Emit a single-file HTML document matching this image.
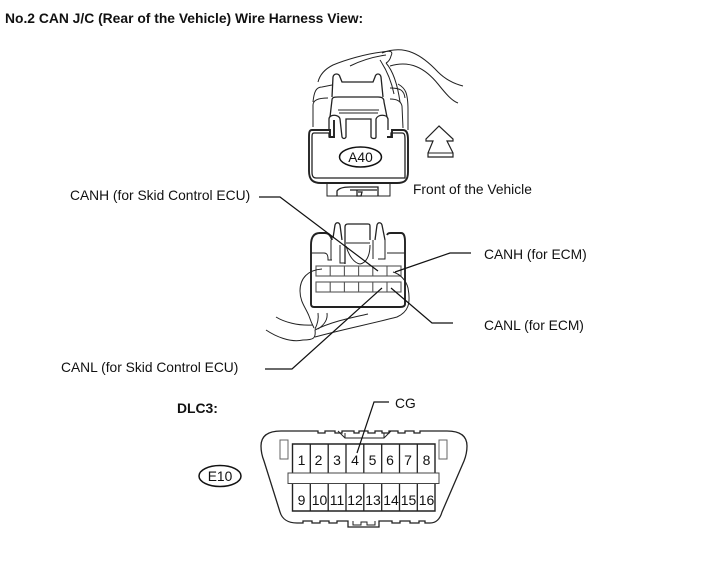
<!DOCTYPE html>
<html><head><meta charset="utf-8"><style>
html,body{margin:0;padding:0;background:#fff}
svg{display:block}
text{font-family:"Liberation Sans",sans-serif;fill:#111}
.l{fill:none;stroke:#222;stroke-width:1}
.m{fill:none;stroke:#222;stroke-width:1.3}
.b{fill:none;stroke:#222;stroke-width:1.9}
.c{fill:none;stroke:#111;stroke-width:1.2}
.g{fill:#fff;stroke:#555;stroke-width:1.1}
.n{font-size:14px;text-anchor:middle}
</style></head><body>
<svg width="713" height="581" viewBox="0 0 713 581" xmlns="http://www.w3.org/2000/svg">
<rect width="713" height="581" fill="#fff"/>
<text x="5" y="23" font-size="13.85" font-weight="bold">No.2 CAN J/C (Rear of the Vehicle) Wire Harness View:</text>

<!-- A40 connector -->
<path class="l" d="M318 82C320 74 325 69 333 65C345 60 365 54 382 52C392 50 393 52 391 56C390 60 388 62 386 63"/>
<path class="l" d="M350 66C360 61 372 57 386 55M382 53C405 44 422 55 438 72C446 80 455 84 463 86"/>
<path class="l" d="M390 66C410 60 425 68 438 84C446 94 452 101 458 103"/>
<path class="l" d="M386 63C394 72 398 88 400 102M380 60C388 72 392 84 394 94"/>
<path class="l" d="M313 127V105C313 100 318 98 328 98M313 102C314 92 316 87 322 87L332 85M403 128L402 106C401 101 397 99 390 99M398 84C405 88 408 92 408 110V130M390 88C400 88 404 90 405 98"/>
<path class="m" d="M332 97L333 77C334 73 339 73 340 77L342 82H373L375 77C376 73 380 73 381 77L383 97"/>
<path class="m" d="M330 117L332 100C332 97 335 97 338 97H378C382 97 384 98 384 102L387 117"/>
<path class="l" d="M338 110H379M339 113H378"/>
<path class="m" d="M329 130L329 119C329 114 339 114 340 119L342 137C343 139 345 139 346 137V119H371V137C372 139 376 139 376 137V119C378 114 387 114 388 119V130"/>
<path class="b" d="M312 130H330V137H334V120M387 137H392V130H403C407 130 408 134 408 140V172C408 181 404 183 397 183H321C313 183 309 180 309 171V138C309 133 309 130 312 130"/>
<path class="m" d="M314 133H329V137H335M391 136V133H402C405 133 405 136 405 140V178H316C313 178 312 176 312 172V138C312 135 312 133 314 133"/>
<path class="l" d="M327 183V196H390V183"/>
<path class="m" d="M337 196V191C339 188 345 187 350 187H378V196M350 190H377M357 190V196H361L362 192H358"/>
<ellipse cx="360.500" cy="157" rx="21" ry="10" fill="#fff" stroke="#111" stroke-width="1.5"/>
<text x="360.500" y="162" font-size="13.8" text-anchor="middle">A40</text>

<!-- Arrow -->
<path d="M439 126L426 139V141H433L428 153V157H453V153L447 141H453V139Z" fill="#fff" stroke="#222" stroke-width="1.2"/>
<path class="l" d="M428 153H453"/>
<text x="413" y="194" font-size="13.8">Front of the Vehicle</text>

<!-- Mating connector -->
<path class="b" d="M311 304V245C311 237 314 233 320 233H325C329 233 331 236 332 240M387 235C388 233 389 233 391 233H401C404 233 405 236 405 242V304C405 306 403 307 400 307H314C312 307 311 306 311 304"/>
<path class="m" d="M333 238L335 225C336 222 339 222 340 225L342 240"/>
<path class="m" d="M345 264V227C345 225 346 224 348 224H368C370 224 370 225 370 227V240"/>
<path class="m" d="M375 240L377 225C378 222 381 222 382 225L385 240"/>
<path class="l" d="M311 253H324C327 253 328 255 328 259V260H332M331 240V260M340 245V263H345M346 243H370M373 240V259M378 259H385V240M387 253H405M346 246C349 256 354 263 360 264C366 263 370 256 370 245"/>
<g class="g">
<rect x="316" y="266" width="85" height="10"/>
<rect x="316" y="282" width="85" height="10"/>
<path d="M330.200 266V276M344.400 266V276M358.600 266V276M372.800 266V276M387 266V276M330.200 282V292M344.400 282V292M358.600 282V292M372.800 282V292M387 282V292" fill="none"/>
</g>
<path class="l" d="M322 269C308 270 300 278 300 291C300 302 306 308 309 316C311 322 313 326 314 328"/>
<path class="l" d="M276 317C284 322 298 326 313 325M266 330C275 336 290 343 303 340C314 340 316 338 315 330C330 322 350 318 368 314M315 337C340 330 370 324 397 317C408 312 411 304 408 288C406 280 400 274 393 272"/>
<path class="l" d="M318 313C319 320 317 325 315 329M327 313C328 320 324 325 318 329"/>

<!-- Leaders -->
<path class="c" d="M259 197H280L378 271M471 253H450L395 272M453 323H432L391 288M265 369H292L382 288"/>
<text x="70" y="200" font-size="13.8">CANH (for Skid Control ECU)</text>
<text x="484" y="259" font-size="13.8">CANH (for ECM)</text>
<text x="484" y="330" font-size="13.8">CANL (for ECM)</text>
<text x="61" y="372" font-size="13.8">CANL (for Skid Control ECU)</text>
<text x="177" y="413" font-size="13.9" font-weight="bold">DLC3:</text>

<!-- DLC3 -->
<path class="m" d="M307 431H281C268 431 261 436 261 446C261 451 262 456 264 461L280 512C282 519 288 523 297 523H303V521H312V523H320V521H329V523H337V521H348V527H379V521H392V523H400V521H410V523H419V521H425V523H430C436 523 440 519 442 512L464 461C466 456 467 451 467 446C467 436 460 431 447 431H420V433H414V431H405V433H398V431H389V433H382V431H375V433H368V431H359V433H354V431H342V433H335V431H325V433H318V431H307"/>
<path class="l" d="M353 521V525H361V522H367V525H375V521"/>
<path class="l" d="M338 431L345 438H384L391 431M345 433V438M384 433V438" stroke="#555"/>
<rect x="280" y="440" width="8" height="19" fill="#fff" stroke="#666" stroke-width="1"/>
<rect x="439" y="440" width="8" height="19" fill="#fff" stroke="#666" stroke-width="1"/>
<path d="M292.500 511V444H435V511Z" fill="#fff" stroke="#222" stroke-width="1.4"/>
<path class="m" d="M310.300 444V511M328.200 444V511M346 444V511M363.800 444V511M381.700 444V511M399.500 444V511M417.300 444V511"/>
<rect x="288" y="473" width="151" height="10.500" fill="#fff" stroke="#444" stroke-width="1"/>
<g class="n">
<text x="301.500" y="465">1</text><text x="318.500" y="465">2</text><text x="337" y="465">3</text><text x="355" y="465">4</text><text x="372.500" y="465">5</text><text x="390" y="465">6</text><text x="408" y="465">7</text><text x="426.500" y="465">8</text>
<text x="301.500" y="505">9</text><text x="319.500" y="505">10</text><text x="337" y="505">11</text><text x="355" y="505">12</text><text x="373" y="505">13</text><text x="391" y="505">14</text><text x="408.500" y="505">15</text><text x="426.500" y="505">16</text>
</g>
<path class="c" d="M389 402H374L357 453" stroke="#333"/>
<text x="395" y="408" font-size="13.8">CG</text>
<ellipse cx="220" cy="476" rx="21" ry="10.500" fill="#fff" stroke="#111" stroke-width="1.5"/>
<text x="220" y="481" font-size="13.8" text-anchor="middle">E10</text>
</svg>
</body></html>
